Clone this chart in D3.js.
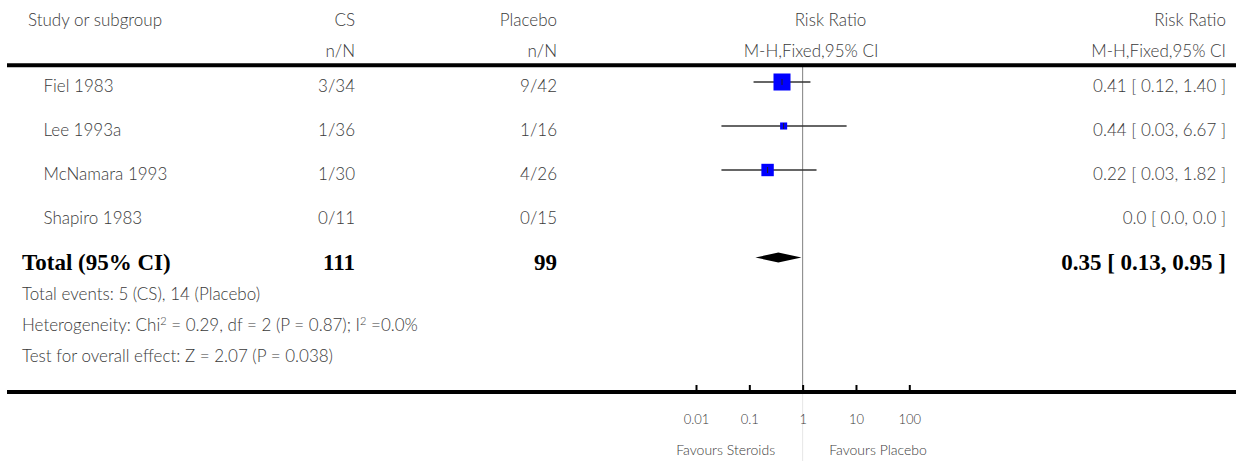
<!DOCTYPE html>
<html>
<head>
<meta charset="utf-8">
<script src="https://cdn.jsdelivr.net/npm/d3@7"></script>
<style>
  html, body { margin: 0; padding: 0; background: #fff; }
  svg { display: block; }
  .sans { font-family: Lato, "Noto Sans", sans-serif; fill: #3a3a3a; font-weight: 300; }
  .bold { font-family: "Liberation Serif", "DejaVu Serif", serif; font-weight: bold; fill: #000; }
</style>
</head>
<body>
<svg id="chart" width="1236" height="461"></svg>
<script>
// ---- data ----
const studies = ["Fiel 1983", "Lee 1993a", "McNamara 1993", "Shapiro 1983"];
const csEvents = ["3/34", "1/36", "1/30", "0/11"];
const placeboEvents = ["9/42", "1/16", "4/26", "0/15"];
const riskRatio = [0.41, 0.44, 0.22, null];
const ciLower = [0.12, 0.03, 0.03, null];
const ciUpper = [1.40, 6.67, 1.82, null];
const weights = [58.7, 10.1, 31.2, 0];
const effectLabels = ["0.41 [ 0.12, 1.40 ]", "0.44 [ 0.03, 6.67 ]", "0.22 [ 0.03, 1.82 ]", "0.0 [ 0.0, 0.0 ]"];
const total = { label: "Total (95% CI)", cs: "111", placebo: "99", rr: 0.35, lo: 0.13, hi: 0.95, text: "0.35 [ 0.13, 0.95 ]" };
const headers1 = ["Study or subgroup", "CS", "Placebo", "Risk Ratio", "Risk Ratio"];
const headers2 = ["n/N", "n/N", "M-H,Fixed,95% CI", "M-H,Fixed,95% CI"];
const tickValues = [0.01, 0.1, 1, 10, 100];
const tickLabels = ["0.01", "0.1", "1", "10", "100"];
const favours = ["Favours Steroids", "Favours Placebo"];

// ---- layout ----
const svg = d3.select("#chart");
const W = 1236;
const xCS = 355, xPl = 557, xRight = 1226, xName = 43.5, xLeft = 22;
const rowY = [82, 126, 170, 214];
const totalY = 257.5;
const axisY = 392;
const FS = "17px";

const x = d3.scaleLog().domain([0.01, 100]).range([696, 909.3]);
const size = d3.scaleSqrt().domain([0, 100]).range([0, 22.2]);

// headers
svg.append("text").attr("class", "sans").attr("x", 28).attr("y", 26).style("font-size", FS).text(headers1[0]);
svg.append("text").attr("class", "sans").attr("x", xCS).attr("y", 26).attr("text-anchor", "end").style("font-size", FS).text(headers1[1]);
svg.append("text").attr("class", "sans").attr("x", xPl).attr("y", 26).attr("text-anchor", "end").style("font-size", FS).text(headers1[2]);
svg.append("text").attr("class", "sans").attr("x", 830.5).attr("y", 26).attr("text-anchor", "middle").style("font-size", FS).text(headers1[3]);
svg.append("text").attr("class", "sans").attr("x", xRight).attr("y", 26).attr("text-anchor", "end").style("font-size", FS).text(headers1[4]);
svg.append("text").attr("class", "sans").attr("x", xCS).attr("y", 57).attr("text-anchor", "end").style("font-size", FS).text(headers2[0]);
svg.append("text").attr("class", "sans").attr("x", xPl).attr("y", 57).attr("text-anchor", "end").style("font-size", FS).text(headers2[1]);
svg.append("text").attr("class", "sans").attr("x", 811).attr("y", 57).attr("text-anchor", "middle").style("font-size", FS).text(headers2[2]);
svg.append("text").attr("class", "sans").attr("x", xRight).attr("y", 57).attr("text-anchor", "end").style("font-size", FS).text(headers2[3]);

// vertical line of no effect
svg.append("line").attr("x1", x(1)).attr("x2", x(1)).attr("y1", 67).attr("y2", axisY)
  .attr("stroke", "#808080").attr("stroke-width", 1);
svg.append("line").attr("x1", x(1)).attr("x2", x(1)).attr("y1", axisY + 2).attr("y2", 461)
  .attr("stroke", "#e6e6e6").attr("stroke-width", 1);

// thick rules
svg.append("line").attr("x1", 7).attr("x2", W).attr("y1", 65.3).attr("y2", 65.3).attr("stroke", "#000").attr("stroke-width", 4);
svg.append("line").attr("x1", 7).attr("x2", W).attr("y1", axisY).attr("y2", axisY).attr("stroke", "#000").attr("stroke-width", 4);

// study rows
studies.forEach((s, i) => {
  const y = rowY[i];
  svg.append("text").attr("class", "sans").attr("x", xName).attr("y", y + 10).style("font-size", FS).text(s);
  svg.append("text").attr("class", "sans").attr("x", xCS).attr("y", y + 10).attr("text-anchor", "end").style("font-size", FS).text(csEvents[i]);
  svg.append("text").attr("class", "sans").attr("x", xPl).attr("y", y + 10).attr("text-anchor", "end").style("font-size", FS).text(placeboEvents[i]);
  svg.append("text").attr("class", "sans").attr("x", xRight).attr("y", y + 10).attr("text-anchor", "end").style("font-size", FS).text(effectLabels[i]);
  if (riskRatio[i] != null) {
    svg.append("line").attr("x1", x(ciLower[i])).attr("x2", x(ciUpper[i])).attr("y1", y).attr("y2", y)
      .attr("stroke", "#333").attr("stroke-width", 1.5);
    const s2 = size(weights[i]);
    svg.append("rect").attr("x", x(riskRatio[i]) - s2 / 2).attr("y", y - s2 / 2)
      .attr("width", s2).attr("height", s2).attr("fill", "#0000ff");
    svg.append("line").attr("x1", x(riskRatio[i])).attr("x2", x(riskRatio[i])).attr("y1", y - 3).attr("y2", y + 3)
      .attr("stroke", "#222").attr("stroke-width", 1);
  }
});

// total row
svg.append("text").attr("class", "bold").attr("x", xLeft).attr("y", 270).style("font-size", "23px").text(total.label);
svg.append("text").attr("class", "bold").attr("x", xCS).attr("y", 270).attr("text-anchor", "end").style("font-size", "23px").text(total.cs);
svg.append("text").attr("class", "bold").attr("x", xPl).attr("y", 270).attr("text-anchor", "end").style("font-size", "23px").text(total.placebo);
svg.append("text").attr("class", "bold").attr("x", xRight).attr("y", 270).attr("text-anchor", "end").style("font-size", "23px").text(total.text);
svg.append("path")
  .attr("d", d3.line()([[x(total.lo), totalY], [x(total.rr), totalY - 5], [x(total.hi), totalY], [x(total.rr), totalY + 5]]) + "Z")
  .attr("fill", "#000");

// footnotes
svg.append("text").attr("class", "sans").attr("x", xLeft).attr("y", 299.5).style("font-size", FS).text("Total events: 5 (CS), 14 (Placebo)");
const het = svg.append("text").attr("class", "sans").attr("x", xLeft).attr("y", 330.5).style("font-size", FS);
het.append("tspan").text("Heterogeneity: Chi");
het.append("tspan").attr("dy", -6).style("font-size", "11px").text("2");
het.append("tspan").attr("dy", 6).text(" = 0.29, df = 2 (P = 0.87); I");
het.append("tspan").attr("dy", -6).style("font-size", "11px").text("2");
het.append("tspan").attr("dy", 6).text(" =0.0%");
svg.append("text").attr("class", "sans").attr("x", xLeft).attr("y", 361.5).style("font-size", FS).text("Test for overall effect: Z = 2.07 (P = 0.038)");

// axis
const axis = d3.axisBottom(x).tickValues(tickValues).tickFormat((d, i) => tickLabels[i]).tickSizeInner(-7).tickSizeOuter(0);
const gAxis = svg.append("g").attr("transform", `translate(0,${axisY})`).call(axis);
gAxis.select(".domain").remove();
gAxis.selectAll(".tick line").attr("stroke", "#000").attr("stroke-width", 2);
gAxis.selectAll(".tick text").attr("y", 32).attr("dy", 0)
  .attr("font-family", "Lato, 'Noto Sans', sans-serif").attr("font-weight", 300).attr("font-size", 13).attr("fill", "#3a3a3a");

// favours labels
svg.append("text").attr("class", "sans").attr("x", x(1) - 27.5).attr("y", 455).attr("text-anchor", "end").style("font-size", "14px").text(favours[0]);
svg.append("text").attr("class", "sans").attr("x", x(1) + 26.5).attr("y", 455).style("font-size", "14px").text(favours[1]);
</script>
</body>
</html>
